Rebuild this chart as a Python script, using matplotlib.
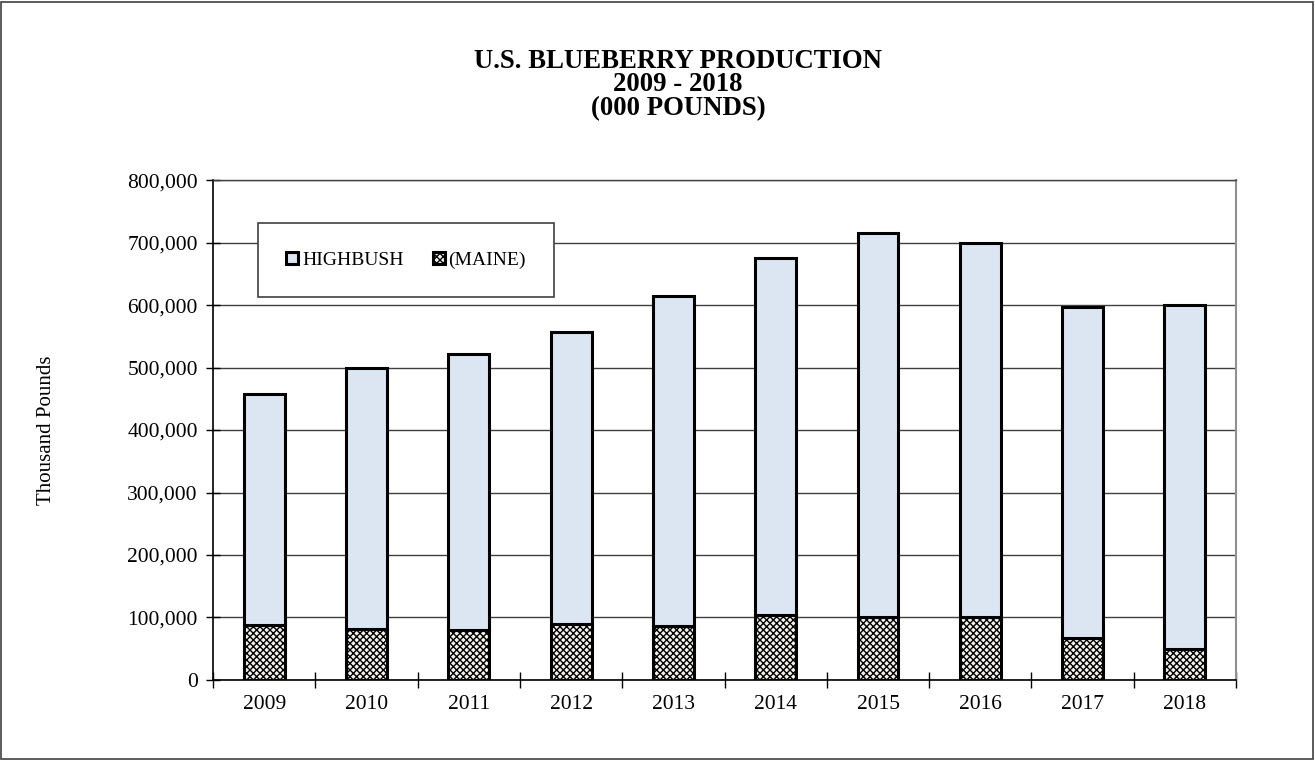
import numpy as np
import matplotlib.pyplot as plt
from matplotlib.patches import Rectangle
from matplotlib.ticker import FuncFormatter

plt.rcParams['font.family'] = ['Liberation Serif', 'DejaVu Serif']
plt.rcParams['hatch.linewidth'] = 1.0

years = ['2009', '2010', '2011', '2012', '2013', '2014', '2015', '2016', '2017', '2018']
maine = [88000, 82100, 79500, 90100, 86900, 104000, 100500, 101000, 66700, 49100]
highbush = [369600, 416600, 442100, 467200, 527000, 570700, 614200, 597700, 530100, 550400]

fig = plt.figure(figsize=(13.15, 7.6), dpi=100)
ax = fig.add_axes([0.162, 0.1053, 0.778, 0.6577])

x = np.arange(len(years))
w = 0.4
ax.bar(x, maine, w, color='#f4f2ea', edgecolor='black', linewidth=2.2,
       hatch='xxxxx', label='(MAINE)', zorder=3)
ax.bar(x, highbush, w, bottom=maine, color='#dce6f2', edgecolor='black',
       linewidth=2.2, label='HIGHBUSH', zorder=3)

ax.set_xlim(-0.5, len(years) - 0.5)
ax.set_ylim(0, 800000)
ax.set_yticks(np.arange(0, 800001, 100000))
ax.yaxis.set_major_formatter(FuncFormatter(lambda v, p: f'{v:,.0f}'))
ax.set_xticks(x)
ax.set_xticklabels(years)
ax.set_xticks(np.arange(-0.5, len(years)), minor=True)
ax.tick_params(axis='x', which='major', length=0, labelsize=15.5, pad=11)
ax.tick_params(axis='x', which='minor', direction='inout', length=12, width=1)
ax.tick_params(axis='y', direction='inout', length=10, width=1, labelsize=15.5, pad=6)

ax.grid(axis='y', color='#404040', linewidth=1, zorder=0)
ax.spines['left'].set_linewidth(1.2)
ax.spines['bottom'].set_linewidth(1.2)
ax.spines['right'].set_color('#909090')
ax.spines['right'].set_linewidth(1.5)
ax.spines['top'].set_color('#404040')
ax.spines['top'].set_linewidth(1)

ax.set_ylabel('Thousand Pounds', fontsize=15, labelpad=51)

h, l = ax.get_legend_handles_labels()
leg = ax.legend(h[::-1], l[::-1], loc='center', ncol=2, fontsize=14,
                bbox_to_anchor=(0.1887, 0.84),
                handlelength=0.62, handleheight=0.62, handletextpad=0.2,
                borderpad=1.45, columnspacing=1.5, fancybox=False, framealpha=1)
leg.get_frame().set_edgecolor('#404040')
leg.get_frame().set_linewidth(1.2)
leg.set_zorder(5)

title_lines = ['U.S. BLUEBERRY PRODUCTION', '2009 - 2018', '(000 POUNDS)']
for i, t in enumerate(title_lines):
    fig.text(0.5156, 0.919 - i * 0.0308, t, ha='center', va='center',
             fontsize=19.3, fontweight='bold')

fig.patches.append(Rectangle((0.0008, 0.0013), 0.998, 0.996, transform=fig.transFigure,
                             fill=False, edgecolor='#404040', linewidth=1.2))

fig.savefig('out.png', dpi=100)
